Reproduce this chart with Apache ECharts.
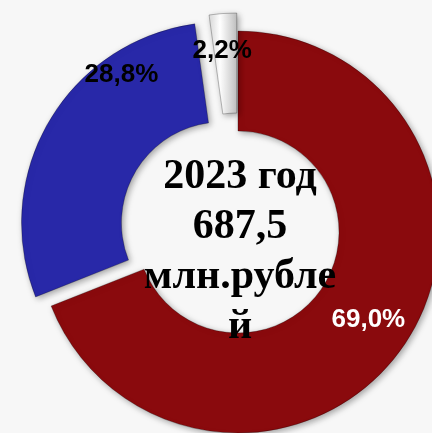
<!DOCTYPE html>
<html>
<head>
<meta charset="utf-8">
<script src="https://cdn.jsdelivr.net/npm/echarts@6/dist/echarts.min.js"></script>
<style>
  html, body { margin: 0; padding: 0; background: #f7f7f7; }
  #chart { width: 432px; height: 433px; }
</style>
</head>
<body>
<div id="chart"></div>
<script>
// доли, %
var names = ['red', 'blue', 'white'];
var values = [69.0, 28.8, 2.2];
var labels = ['69,0%', '28,8%', '2,2%'];
var exploded = [false, true, true];
var centerLines = ['2023 год', '687,5', 'млн.рубле', 'й'];

var colors = [
    '#8a0a0d',
    '#2828a8',
    { type: 'linear', x: 0, y: 0, x2: 1, y2: 0,
      colorStops: [{ offset: 0, color: '#d8d8d8' }, { offset: 0.4, color: '#ffffff' }, { offset: 1, color: '#bdbdbd' }] }
];
var labelColors = ['#ffffff', '#000000', '#000000'];
// сдвиг подписей от стандартного положения
var labelShift = [[3, 1], [32, -71], [-4, -10]];

var pieData = [];
for (var i = 0; i < values.length; i++) {
    pieData.push({
        name: names[i],
        value: values[i],
        selected: exploded[i],
        itemStyle: { color: colors[i] },
        label: { formatter: labels[i], color: labelColors[i] }
    });
}

var myChart = echarts.init(document.getElementById('chart'));
var option = {
    backgroundColor: '#f7f7f7',
    animation: false,
    graphic: [{
        type: 'text',
        x: 240,
        y: 152,
        style: {
            text: centerLines.join('\n'),
            textAlign: 'center',
            textVerticalAlign: 'top',
            font: 'bold 42px "Liberation Serif", "Times New Roman", serif',
            lineHeight: 50,
            fill: '#000'
        },
        z: 10
    }],
    series: [{
        type: 'pie',
        center: [238, 232],
        radius: [101, 201],
        startAngle: 90,
        clockwise: true,
        selectedMode: 'multiple',
        selectedOffset: 18,
        avoidLabelOverlap: false,
        emphasis: { disabled: true },
        itemStyle: {
            borderColor: 'rgba(0,0,0,0.25)',
            borderWidth: 1,
            shadowBlur: 6,
            shadowOffsetX: 2,
            shadowOffsetY: 2,
            shadowColor: 'rgba(0,0,0,0.35)'
        },
        select: { itemStyle: { borderColor: 'rgba(0,0,0,0.25)', borderWidth: 1 } },
        label: {
            show: true,
            position: 'inside',
            fontFamily: '"Liberation Sans", Arial, sans-serif',
            fontWeight: 'bold',
            fontSize: 26
        },
        labelLine: { show: false },
        labelLayout: function (params) {
            var s = labelShift[params.dataIndex];
            return { dx: s[0], dy: s[1] };
        },
        data: pieData
    }]
};
myChart.setOption(option);
</script>
</body>
</html>
